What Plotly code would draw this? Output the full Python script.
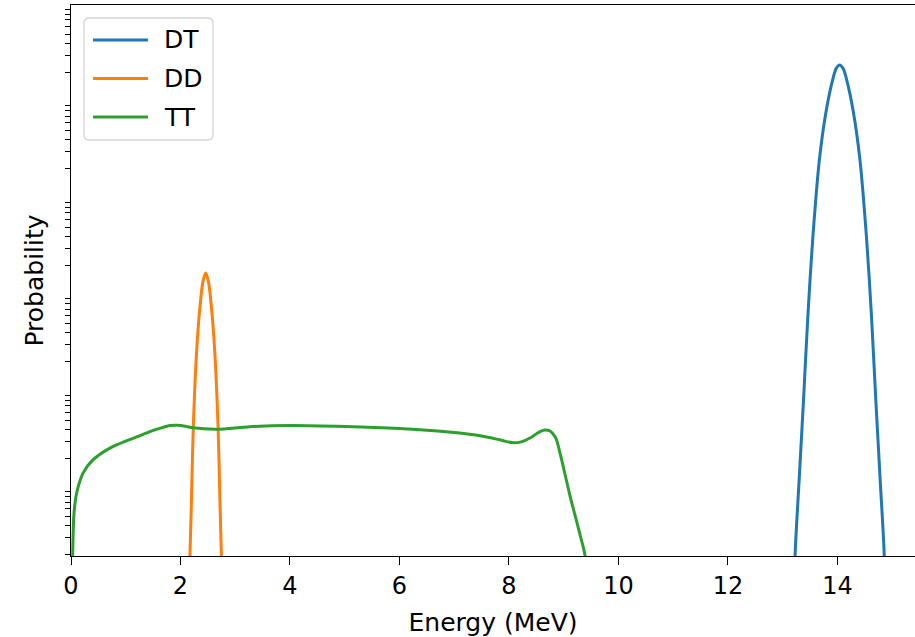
import plotly.graph_objects as go

# ---------------- data ----------------
series_names = ["DT", "DD", "TT"]
series_colors = ["#1f77b4", "#ff7f0e", "#2ca02c"]

dt_energy = [13.18, 13.225, 13.30, 13.38, 13.46, 13.55, 13.67, 13.79, 13.92, 13.98,
             14.04, 14.10, 14.16, 14.29, 14.41, 14.53, 14.62, 14.70, 14.78, 14.855, 14.90]
dt_prob = [1.6e-6, 1.95e-5, 1.2e-4, 8.1e-4, 6.1e-3, 3.9e-2, 0.25, 0.78, 1.75, 2.22,
           2.39, 2.22, 1.75, 0.78, 0.25, 3.9e-2, 6.1e-3, 8.1e-4, 1.2e-4, 1.95e-5, 1.6e-6]

dd_energy = [2.14, 2.173, 2.20, 2.234, 2.296, 2.356, 2.41, 2.46, 2.51, 2.564, 2.624,
             2.686, 2.72, 2.747, 2.78]
dd_prob = [3e-6, 1.95e-5, 7.4e-5, 4.27e-4, 2.66e-3, 7.48e-3, 1.36e-2, 1.67e-2, 1.36e-2,
           7.48e-3, 2.66e-3, 4.27e-4, 7.4e-5, 1.95e-5, 3e-6]

tt_energy = [0.0, 0.03, 0.055, 0.104, 0.22, 0.40, 0.71, 1.0, 1.25, 1.44, 1.65, 1.81,
             1.95, 2.1, 2.23, 2.66, 3.27, 4.0, 5.0, 6.0, 7.0, 7.5, 7.85, 8.05, 8.2,
             8.4, 8.55, 8.65, 8.75, 8.85, 8.93, 9.11, 9.30, 9.39, 9.45]
tt_prob = [3e-6, 1.95e-5, 5.4e-5, 8.8e-5, 1.41e-4, 1.93e-4, 2.56e-4, 3.03e-4, 3.42e-4,
           3.79e-4, 4.15e-4, 4.38e-4, 4.42e-4, 4.30e-4, 4.15e-4, 4.01e-4, 4.27e-4,
           4.39e-4, 4.29e-4, 4.08e-4, 3.72e-4, 3.42e-4, 3.10e-4, 2.92e-4, 2.95e-4,
           3.30e-4, 3.75e-4, 3.94e-4, 3.85e-4, 3.30e-4, 2.30e-4, 8.4e-5, 3.2e-5,
           1.95e-5, 5e-6]

x_tick_values = [0, 2, 4, 6, 8, 10, 12, 14]
x_tick_labels = ["0", "2", "4", "6", "8", "10", "12", "14"]
x_title = "Energy (MeV)"
y_title = "Probability"

# ---------------- figure ----------------
FONT = "DejaVu Sans"
FS = 24      # tick labels
FS_T = 25    # axis titles / legend

fig = go.Figure()
for name, xs, ys, col in zip(series_names,
                             [dt_energy, dd_energy, tt_energy],
                             [dt_prob, dd_prob, tt_prob],
                             series_colors):
    fig.add_trace(go.Scatter(x=xs, y=ys, mode="lines", name=name,
                             line=dict(color=col, width=3, shape="spline", smoothing=0.9),
                             showlegend=False, hoverinfo="x+y+name"))

# minor log ticks (2..9 x 10^n) only, as in the reference (no major ticks / labels)
y_minor_ticks = [m * 10.0 ** e for e in range(-5, 1) for m in range(2, 10)]

fig.update_layout(
    width=915, height=637,
    margin=dict(l=71, r=0, t=5, b=81),
    paper_bgcolor="white", plot_bgcolor="white",
    font=dict(family=FONT, size=FS, color="black"),
    xaxis=dict(range=[0, 15.416], tickmode="array", tickvals=x_tick_values,
               ticktext=x_tick_labels, ticks="outside", ticklen=8, tickwidth=1.4,
               tickcolor="black", showline=True, linewidth=1.4, linecolor="black",
               mirror=True, showgrid=False, zeroline=False,
               title=dict(text=x_title, standoff=14, font=dict(size=FS_T))),
    yaxis=dict(type="log", range=[-4.71, 1.0], tickmode="array", tickvals=y_minor_ticks,
               showticklabels=False, ticks="outside", ticklen=5, tickwidth=1.2,
               tickcolor="black", showline=True, linewidth=1.4, linecolor="black",
               showgrid=False, zeroline=False,
               title=dict(text=y_title, standoff=14, font=dict(size=FS_T))),
)

# ---------------- legend (matplotlib style, upper left) ----------------
x0, x1, y0, y1 = 0.0154, 0.1682, 0.7550, 0.9764
rx, ry = 0.0062, 0.0095
path = (f"M {x0+rx},{y1} L {x1-rx},{y1} Q {x1},{y1} {x1},{y1-ry} "
        f"L {x1},{y0+ry} Q {x1},{y0} {x1-rx},{y0} L {x0+rx},{y0} "
        f"Q {x0},{y0} {x0},{y0+ry} L {x0},{y1-ry} Q {x0},{y1} {x0+rx},{y1} Z")
fig.add_shape(type="path", path=path, xref="paper", yref="paper",
              line=dict(color="#d5d5d5", width=1.3), fillcolor="rgba(255,255,255,0.8)",
              layer="above")
row_y = [0.9365, 0.8668, 0.7967]
for name, col, ry_ in zip(series_names, series_colors, row_y):
    fig.add_shape(type="line", xref="paper", yref="paper", x0=0.0261, x1=0.0912,
                  y0=ry_, y1=ry_, line=dict(color=col, width=3), layer="above")
    fig.add_annotation(text=name, xref="paper", yref="paper", x=0.1078, y=ry_,
                       xanchor="left", yanchor="middle", showarrow=False,
                       font=dict(family=FONT, size=FS_T, color="black"))

fig.write_html("out.html", config={"displayModeBar": False},
               post_script="document.body.style.margin='0';document.body.style.overflow='hidden';")
